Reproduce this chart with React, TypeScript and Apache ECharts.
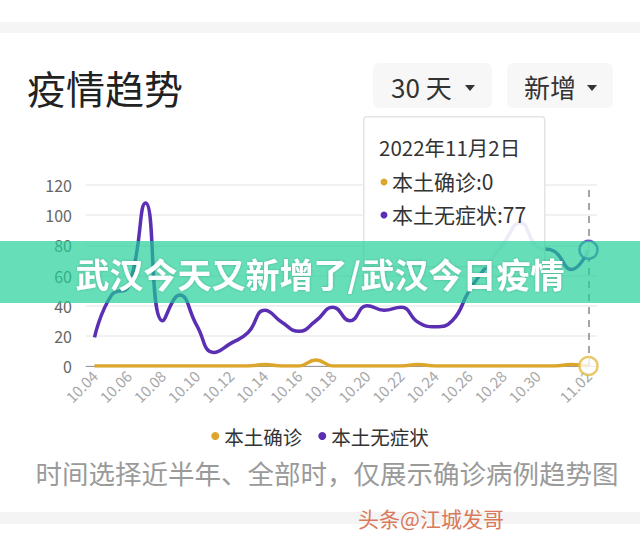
import React, { useEffect, useRef } from "react";
import * as echarts from "echarts";

const dates = [
  "10.04", "10.05", "10.06", "10.07", "10.08", "10.09", "10.10", "10.11", "10.12", "10.13",
  "10.14", "10.15", "10.16", "10.17", "10.18", "10.19", "10.20", "10.21", "10.22", "10.23",
  "10.24", "10.25", "10.26", "10.27", "10.28", "10.29", "10.30", "10.31", "11.01", "11.02",
];
const confirmed = [0, 0, 0, 0, 0, 0, 0, 0, 0, 0, 1, 0, 0, 4, 0, 0, 0, 0, 0, 1, 0, 0, 0, 0, 0, 0, 0, 0, 1, 0];
const asymptomatic = [19, 47, 53, 108, 30, 47, 27, 9, 15, 22, 37, 29, 23, 30, 39, 30, 40, 37, 39, 29, 26, 30, 50, 66, 81, 95, 79, 76, 64, 77];
const seriesNames = ["本土确诊", "本土无症状"];
const yTicks = { min: 0, max: 120, interval: 20 };
const tooltipDate = "2022年11月2日";

const FONT = '"Noto Sans CJK SC", "Noto Sans", sans-serif';
const YELLOW = "#dca52c";
const PURPLE = "#5a2fb4";

export default function App() {
  const ref = useRef<HTMLDivElement>(null);
  useEffect(() => {
    if (!ref.current) return;
    const chart = echarts.init(ref.current, null, { renderer: "svg" });
    const last = dates.length - 1;
    chart.setOption({
      animation: false,
      backgroundColor: "#ffffff",
      textStyle: { fontFamily: FONT },
      grid: { left: 86, right: 43, top: 185, bottom: 179, containLabel: false },
      legend: {
        data: seriesNames.map((n, i) => ({ name: n, itemStyle: { color: i === 0 ? YELLOW : PURPLE } })),
        top: 424,
        left: "center",
        padding: 0,
        icon: "circle",
        itemWidth: 8,
        itemHeight: 8,
        itemGap: 16,
        textStyle: { fontSize: 19.5, color: "#333", fontFamily: FONT, lineHeight: 24 },
      },
      xAxis: {
        type: "category",
        data: dates,
        boundaryGap: true,
        axisTick: { show: false },
        axisLine: { show: true, lineStyle: { color: "#999", width: 1 } },
        axisLabel: {
          rotate: 45,
          color: "#a8a8a8",
          fontSize: 15,
          margin: 7,
          fontFamily: FONT,
          interval: (i: number) => (i % 2 === 0 && i !== 28) || i === last,
        },
      },
      yAxis: {
        type: "value",
        min: yTicks.min,
        max: yTicks.max,
        interval: yTicks.interval,
        axisLine: { show: false },
        axisTick: { show: false },
        axisLabel: { color: "#666", fontSize: 16, margin: 14, fontFamily: FONT },
        splitLine: { lineStyle: { color: "#ececec", width: 1.5 } },
      },
      series: [
        {
          name: seriesNames[0],
          type: "line",
          data: confirmed,
          smooth: true,
          symbol: "none",
          lineStyle: { color: YELLOW, width: 3.5 },
          itemStyle: { color: YELLOW },
          z: 3,
          markLine: {
            silent: true,
            symbol: "none",
            label: { show: false },
            lineStyle: { color: "#888", type: [7, 6], width: 1.5 },
            data: [{ xAxis: dates[last] }],
          },
        },
        {
          name: seriesNames[1],
          type: "line",
          data: asymptomatic,
          smooth: true,
          symbol: "none",
          lineStyle: { color: PURPLE, width: 3.5 },
          itemStyle: { color: PURPLE },
          z: 2,
        },
        {
          type: "scatter",
          data: [[dates[last], confirmed[last]]],
          symbol: "circle",
          symbolSize: 18,
          itemStyle: { color: "#fff", borderColor: "#e4bc48", borderWidth: 2.5 },
          z: 5,
        },
        {
          type: "scatter",
          data: [[dates[last], asymptomatic[last]]],
          symbol: "circle",
          symbolSize: 18,
          itemStyle: { color: "#fff", borderColor: PURPLE, borderWidth: 2.5 },
          z: 5,
        },
      ],
      graphic: [
        { type: "rect", left: 0, top: 22, shape: { width: 640, height: 11 }, style: { fill: "#f5f5f5" }, z: 1 },
        { type: "rect", left: 0, top: 512, shape: { width: 640, height: 12 }, style: { fill: "#f4f4f4" }, z: 1 },
        {
          type: "text",
          x: 27,
          y: 87,
          style: { text: "疫情趋势", fontSize: 39, fontWeight: "normal", fill: "#222", fontFamily: FONT, verticalAlign: "middle" },
          z: 10,
        },
        { type: "rect", left: 373, top: 63, shape: { width: 119, height: 45, r: 6 }, style: { fill: "#f7f7f7" }, z: 5 },
        { type: "rect", left: 507, top: 63, shape: { width: 106, height: 45, r: 6 }, style: { fill: "#f7f7f7" }, z: 5 },
        {
          type: "text",
          x: 391,
          y: 86,
          style: { text: "30 天", fontSize: 26, fill: "#333", fontFamily: FONT, verticalAlign: "middle" },
          z: 10,
        },
        { type: "polygon", shape: { points: [[465, 85], [475, 85], [470, 91]] }, style: { fill: "#333" }, z: 10 },
        {
          type: "text",
          x: 524,
          y: 86,
          style: { text: "新增", fontSize: 26, fill: "#333", fontFamily: FONT, verticalAlign: "middle" },
          z: 10,
        },
        { type: "polygon", shape: { points: [[587, 85], [597, 85], [592, 91]] }, style: { fill: "#333" }, z: 10 },
        {
          type: "rect",
          left: 363,
          top: 116,
          shape: { width: 181, height: 150, r: 3 },
          style: { fill: "rgba(255,255,255,0.9)", stroke: "#e4e4e4", lineWidth: 1.5 },
          z: 50,
        },
        {
          type: "text",
          x: 379,
          y: 147,
          style: { text: tooltipDate, fontSize: 20.5, fill: "#333", fontFamily: FONT, verticalAlign: "middle" },
          z: 51,
        },
        { type: "circle", shape: { cx: 384, cy: 182, r: 3.5 }, style: { fill: YELLOW }, z: 51 },
        {
          type: "text",
          x: 392,
          y: 181,
          style: { text: seriesNames[0] + ":" + confirmed[last], fontSize: 21, fill: "#333", fontFamily: FONT, verticalAlign: "middle" },
          z: 51,
        },
        { type: "circle", shape: { cx: 384, cy: 215, r: 3.5 }, style: { fill: PURPLE }, z: 51 },
        {
          type: "text",
          x: 392,
          y: 214,
          style: { text: seriesNames[1] + ":" + asymptomatic[last], fontSize: 21, fill: "#333", fontFamily: FONT, verticalAlign: "middle" },
          z: 51,
        },
        {
          type: "text",
          x: 327,
          y: 472,
          style: {
            text: "时间选择近半年、全部时，仅展示确诊病例趋势图",
            fontSize: 26.5,
            fill: "#9a9a9a",
            fontFamily: FONT,
            align: "center",
            verticalAlign: "middle",
          },
          z: 10,
        },
        {
          type: "text",
          x: 431,
          y: 518,
          style: {
            text: "头条@江城发哥",
            fontSize: 21,
            fill: "#d97a5c",
            fontFamily: FONT,
            align: "center",
            verticalAlign: "middle",
          },
          z: 10,
        },
        {
          type: "rect",
          left: 0,
          top: 241,
          shape: { width: 640, height: 62 },
          style: { fill: "rgba(30,208,150,0.68)" },
          z: 100,
        },
        {
          type: "text",
          x: 320,
          y: 273,
          style: {
            text: "武汉今天又新增了/武汉今日疫情",
            fontSize: 34,
            fontWeight: "bold",
            fill: "#ffffff",
            fontFamily: FONT,
            align: "center",
            verticalAlign: "middle",
            textShadowColor: "rgba(0,0,0,0.2)",
            textShadowBlur: 3,
          },
          z: 101,
        },
      ],
    });
    return () => chart.dispose();
  }, []);
  return (
    <div
      ref={ref}
      style={{ position: "absolute", left: 0, top: 0, width: 640, height: 545 }}
    />
  );
}
